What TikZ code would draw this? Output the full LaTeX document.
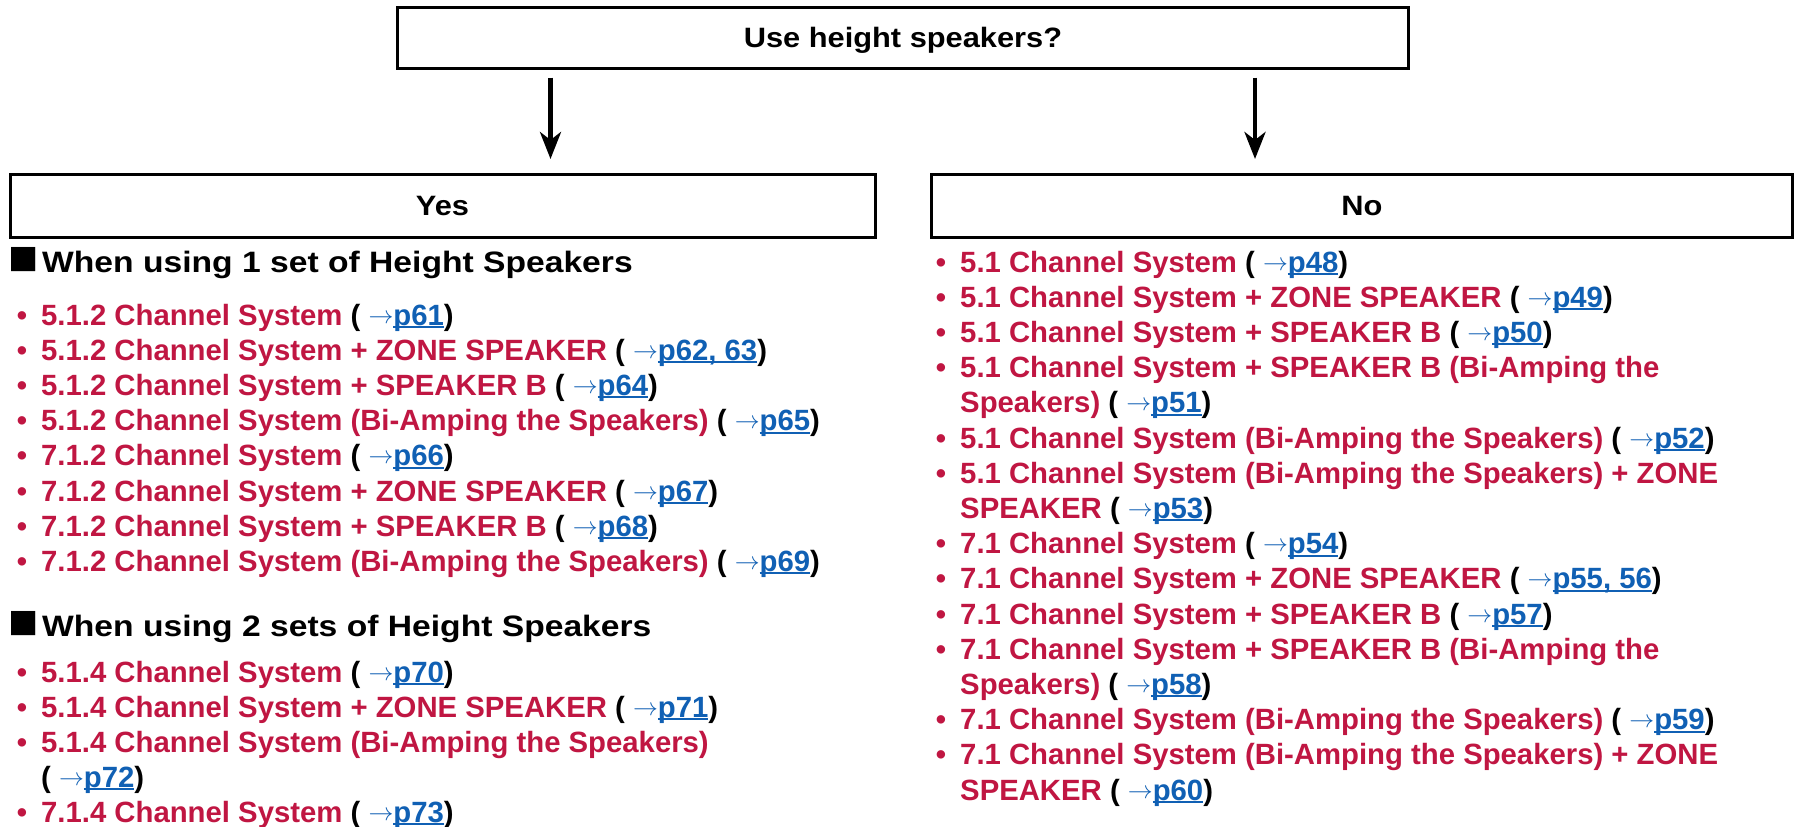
\documentclass[tikz,border=0pt]{standalone}
\usepackage{fontspec}
\setmainfont{Liberation Sans}
\newfontfamily\widefont[FakeStretch=1.14]{Liberation Sans}
\newfontfamily\boxfont[FakeStretch=1.1]{Liberation Sans}
\usetikzlibrary{arrows.meta}
\definecolor{itemred}{RGB}{192,22,66}
\definecolor{linkblue}{RGB}{16,96,180}
\newcommand\ulk[1]{\setbox0\hbox{#1}\rlap{\rule[-3pt]{\wd0}{2pt}}\box0}
\newcommand\lk[1]{{\color{black}(} \textcolor{linkblue}{\raisebox{2pt}{$\rightarrow$}\ulk{#1}}{\color{black})}}
\tikzset{
  box/.style={draw, line width=3pt, inner sep=0pt, outer sep=0pt,
    font=\fontsize{28}{34}\boxfont\bfseries, text height=20pt, text depth=0pt},
  itm/.style={anchor=base west, inner sep=0pt, text=itemred,
    font=\fontsize{29.3}{35}\selectfont\bfseries},
  bul/.style={anchor=base, inner sep=0pt, text=itemred,
    font=\fontsize{29.3}{35}\selectfont\bfseries},
  head/.style={anchor=base west, inner sep=0pt,
    font=\fontsize{29.5}{36}\widefont\bfseries},
  sq/.style={anchor=center, inner sep=0pt,
    font=\fontsize{50}{50}\selectfont},
  arr/.style={line width=4.5pt, -{Stealth[length=27pt,width=21pt,inset=8pt]}}
}
\begin{document}
\begin{tikzpicture}[x=1pt,y=-1pt]
\useasboundingbox[fill=white] (0,0) rectangle (1796,827);
% boxes
\node[box, minimum width=1011pt, minimum height=61pt] (top) at (903,37.5) {Use height speakers?};
\node[box, minimum width=865pt, minimum height=63pt] (yes) at (442.5,205.5) {Yes};
\node[box, minimum width=861pt, minimum height=63pt] (no) at (1362,205.5) {No};
\coordinate (la) at (550.5,0);
\coordinate (ra) at (1255,0);
\draw[arr, shorten <=9.5pt, shorten >=15pt] (top.south -| la) -- (yes.north -| la);
\draw[arr, shorten <=9.5pt, shorten >=15pt] (top.south -| ra) -- (no.north -| ra);
% left column
\node[sq] (sq1) at (23.5,261) {■};
\node[head] (h1) at (42,272) {When using 1 set of Height Speakers};
\foreach \i/\y in {1/325,2/360.2,3/395.4,4/430.6,5/465.8,6/501,7/536.2,8/571.4,9/682,10/717,11/752,13/822}
  \node[bul] (lb\i) at (22,\y) {•};
\node[itm] (l1) at (41,325) {5.1.2 Channel System \lk{p61}};
\node[itm] (l2) at (41,360.2) {5.1.2 Channel System + ZONE SPEAKER \lk{p62, 63}};
\node[itm] (l3) at (41,395.4) {5.1.2 Channel System + SPEAKER B \lk{p64}};
\node[itm] (l4) at (41,430.6) {5.1.2 Channel System (Bi-Amping the Speakers) \lk{p65}};
\node[itm] (l5) at (41,465.8) {7.1.2 Channel System \lk{p66}};
\node[itm] (l6) at (41,501) {7.1.2 Channel System + ZONE SPEAKER \lk{p67}};
\node[itm] (l7) at (41,536.2) {7.1.2 Channel System + SPEAKER B \lk{p68}};
\node[itm] (l8) at (41,571.4) {7.1.2 Channel System (Bi-Amping the Speakers) \lk{p69}};
\node[sq] (sq2) at (23.5,625) {■};
\node[head] (h2) at (42,636) {When using 2 sets of Height Speakers};
\node[itm] (l9) at (41,682) {5.1.4 Channel System \lk{p70}};
\node[itm] (l10) at (41,717) {5.1.4 Channel System + ZONE SPEAKER \lk{p71}};
\node[itm] (l11) at (41,752) {5.1.4 Channel System (Bi-Amping the Speakers)};
\node[itm] (l12) at (41,787) {\lk{p72}};
\node[itm] (l13) at (41,822) {7.1.4 Channel System \lk{p73}};
% right column
\foreach \i/\y in {1/272,2/307.2,3/342.4,4/377.6,6/448,7/483.2,9/553.6,10/588.8,11/624,12/659.2,14/729.6,15/764.8}
  \node[bul] (rb\i) at (941,\y) {•};
\node[itm] (r1) at (960,272) {5.1 Channel System \lk{p48}};
\node[itm] (r2) at (960,307.2) {5.1 Channel System + ZONE SPEAKER \lk{p49}};
\node[itm] (r3) at (960,342.4) {5.1 Channel System + SPEAKER B \lk{p50}};
\node[itm] (r4) at (960,377.6) {5.1 Channel System + SPEAKER B (Bi-Amping the};
\node[itm] (r5) at (960,412.8) {Speakers) \lk{p51}};
\node[itm] (r6) at (960,448) {5.1 Channel System (Bi-Amping the Speakers) \lk{p52}};
\node[itm] (r7) at (960,483.2) {5.1 Channel System (Bi-Amping the Speakers) + ZONE};
\node[itm] (r8) at (960,518.4) {SPEAKER \lk{p53}};
\node[itm] (r9) at (960,553.6) {7.1 Channel System \lk{p54}};
\node[itm] (r10) at (960,588.8) {7.1 Channel System + ZONE SPEAKER \lk{p55, 56}};
\node[itm] (r11) at (960,624) {7.1 Channel System + SPEAKER B \lk{p57}};
\node[itm] (r12) at (960,659.2) {7.1 Channel System + SPEAKER B (Bi-Amping the};
\node[itm] (r13) at (960,694.4) {Speakers) \lk{p58}};
\node[itm] (r14) at (960,729.6) {7.1 Channel System (Bi-Amping the Speakers) \lk{p59}};
\node[itm] (r15) at (960,764.8) {7.1 Channel System (Bi-Amping the Speakers) + ZONE};
\node[itm] (r16) at (960,800) {SPEAKER \lk{p60}};
\end{tikzpicture}
\end{document}
